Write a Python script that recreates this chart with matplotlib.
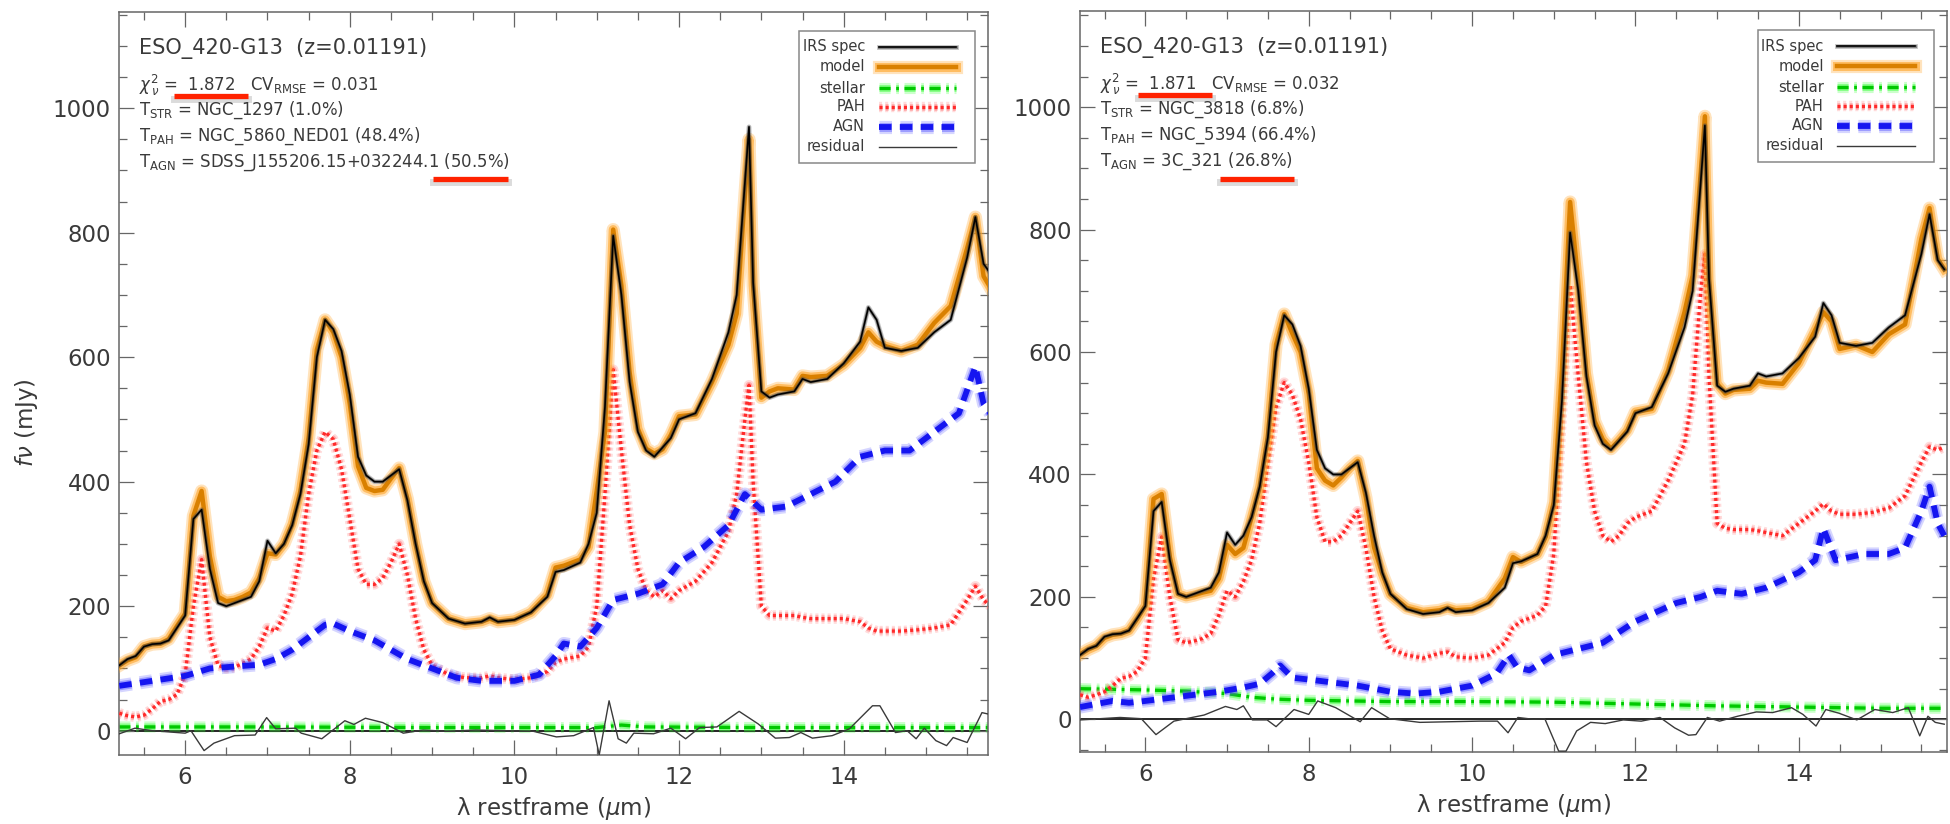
"""
Two-panel IRS spectral decomposition of ESO_420-G13 (stellar + PAH + AGN templates).
"""

import matplotlib

matplotlib.use("Agg")

import matplotlib.patheffects as pe
import matplotlib.pyplot as plt
from matplotlib.lines import Line2D
from matplotlib.patches import Rectangle
from matplotlib.ticker import MultipleLocator

plt.rcParams["font.family"] = ["DejaVu Sans"]
plt.rcParams["lines.scale_dashes"] = False

# ---------------------------------------------------------------- data
# rest-frame wavelength grid of the IRS spectrum (micron)
wl = [5.20, 5.30, 5.40, 5.50, 5.60, 5.70, 5.80, 5.90,
      6.00, 6.10, 6.20, 6.30, 6.40, 6.50, 6.60, 6.70, 6.80, 6.90,
      7.00, 7.10, 7.20, 7.30, 7.40, 7.50, 7.60, 7.70, 7.80, 7.90,
      8.00, 8.10, 8.20, 8.30, 8.40, 8.50, 8.60, 8.70, 8.80, 8.90,
      9.00, 9.20, 9.40, 9.60, 9.70, 9.80,
      10.00, 10.20, 10.40, 10.50, 10.60, 10.80, 10.90,
      11.00, 11.10, 11.20, 11.30, 11.40, 11.50, 11.60, 11.70, 11.80, 11.90,
      12.00, 12.20, 12.40, 12.60, 12.70, 12.80, 12.85, 12.90,
      13.00, 13.10, 13.20, 13.40, 13.50, 13.60, 13.80,
      14.00, 14.20, 14.30, 14.40, 14.50, 14.70, 14.90,
      15.10, 15.30, 15.50, 15.60, 15.70, 15.78]

irs_spec = [105, 115, 120, 135, 139, 140, 145, 165,
            185, 340, 355, 260, 205, 200, 205, 210, 215, 240,
            305, 285, 300, 330, 380, 460, 600, 660, 645, 610,
            540, 440, 410, 400, 400, 410, 420, 370, 300, 240,
            205, 180, 172, 175, 182, 175,
            178, 190, 215, 255, 258, 270, 300,
            350, 520, 795, 700, 560, 480, 450, 440, 455, 470,
            500, 510, 565, 640, 700, 880, 970, 720,
            545, 535, 540, 545, 565, 560, 565,
            590, 625, 680, 660, 615, 610, 615,
            640, 660, 760, 825, 750, 735]

model_left = [105, 113, 118, 135, 139, 140, 147, 168,
              188, 345, 385, 280, 215, 208, 210, 215, 222, 245,
              285, 283, 300, 332, 385, 470, 612, 660, 640, 600,
              525, 425, 390, 385, 387, 405, 422, 372, 300, 240,
              205, 180, 172, 175, 180, 175,
              178, 190, 218, 262, 265, 275, 295,
              385, 480, 805, 715, 575, 485, 453, 445, 452, 475,
              505, 508, 560, 620, 670, 860, 950, 715,
              535, 545, 550, 548, 570, 568, 570,
              588, 615, 640, 625, 618, 610, 620,
              655, 682, 775, 825, 730, 712]

model_right = [106, 114, 120, 133, 138, 140, 145, 164,
               186, 360, 368, 265, 205, 200, 203, 207, 210, 230,
               285, 270, 280, 330, 380, 462, 612, 662, 630, 600,
               532, 410, 390, 382, 395, 410, 422, 362, 281, 238,
               204, 182, 175, 178, 182, 178,
               180, 192, 230, 265, 257, 270, 298,
               355, 570, 845, 715, 565, 487, 457, 442, 456, 472,
               502, 507, 570, 665, 725, 895, 985, 718,
               548, 532, 538, 540, 553, 550, 548,
               582, 636, 665, 650, 605, 611, 600,
               629, 645, 785, 835, 752, 735]

pah_left = [28, 24, 22, 25, 35, 47, 50, 58,
            90, 200, 275, 150, 105, 100, 102, 108, 115, 135,
            165, 160, 185, 220, 280, 380, 450, 480, 468, 420,
            340, 260, 235, 235, 245, 270, 300, 250, 180, 130,
            105, 90, 85, 85, 88, 85,
            82, 85, 95, 110, 115, 120, 135,
            200, 380, 580, 450, 330, 260, 225, 215, 225, 212,
            225, 240, 270, 320, 380, 500, 555, 400,
            200, 185, 185, 185, 182, 180, 180,
            180, 175, 165, 160, 160, 160, 162,
            165, 170, 210, 232, 210, 200]

pah_right = [40, 36, 40, 45, 55, 67, 70, 78,
             100, 230, 298, 200, 130, 125, 128, 132, 140, 170,
             210, 200, 225, 260, 320, 420, 510, 550, 530, 490,
             420, 330, 290, 290, 300, 320, 340, 280, 200, 145,
             115, 105, 100, 108, 110, 102,
             100, 105, 125, 150, 160, 170, 185,
             270, 500, 710, 560, 420, 340, 300, 290, 300, 320,
             330, 340, 390, 450, 530, 700, 760, 560,
             320, 312, 310, 310, 308, 305, 300,
             320, 340, 352, 340, 335, 335, 338,
             345, 365, 420, 445, 440, 445]

agn_wl_left = [5.2, 5.6, 6.0, 6.3, 6.6, 6.9, 7.1, 7.3, 7.5, 7.7, 7.8, 8.0, 8.3,
               8.5, 8.7, 9.0, 9.3, 9.6, 10.0, 10.3, 10.5, 10.6, 10.8, 11.0,
               11.2, 11.5, 11.8, 12.0, 12.3, 12.6, 12.8, 13.0, 13.3, 13.6,
               13.9, 14.2, 14.5, 14.8, 15.0, 15.3, 15.4, 15.6, 15.7, 15.78]
agn_left = [72, 80, 88, 100, 103, 106, 115, 130, 150, 170, 172, 160, 145,
            130, 115, 100, 85, 80, 80, 90, 120, 140, 135, 165,
            210, 220, 235, 270, 295, 330, 380, 355, 360, 380,
            400, 440, 450, 450, 470, 500, 510, 585, 525, 510]

agn_wl_right = [5.2, 5.4, 5.6, 5.8, 6.0, 6.3, 6.6, 6.9, 7.2, 7.4, 7.55, 7.65,
                7.8, 8.0, 8.3, 8.6, 9.0, 9.3, 9.6, 10.0, 10.3, 10.45, 10.55,
                10.7, 11.0, 11.3, 11.6, 12.0, 12.5, 12.8, 13.0, 13.3, 13.6,
                14.0, 14.2, 14.3, 14.45, 14.8, 15.1, 15.3, 15.5, 15.6, 15.7,
                15.78]
agn_right = [20, 25, 30, 27, 30, 35, 40, 45, 52, 58, 75, 88,
             68, 65, 60, 55, 45, 42, 45, 55, 75, 105, 85,
             80, 105, 115, 125, 160, 190, 200, 210, 205, 215,
             240, 260, 312, 260, 270, 270, 280, 340, 380, 320,
             300]

stellar_wl_left = [5.2, 7.0, 9.0, 11.0, 11.3, 11.6, 13.0, 15.0, 15.78]
stellar_left = [6, 6, 5, 5, 9, 6, 5, 5, 5]

stellar_wl_right = [5.2, 6.0, 6.5, 7.0, 7.3, 7.6, 8.0, 9.0, 10.0, 11.0, 12.0,
                    13.0, 14.0, 15.0, 15.78]
stellar_right = [50, 48, 46, 42, 36, 33, 31, 29, 29, 28, 25, 22, 20, 18, 18]

resid_wl_left = [5.20, 5.39, 5.60, 6.00, 6.07, 6.23, 6.35, 6.60, 6.85, 6.99,
                 7.10, 7.34, 7.41, 7.66, 7.94, 8.05, 8.19, 8.40, 8.65, 8.89,
                 9.18, 9.53, 9.88, 10.23, 10.51, 10.72, 10.96, 11.03, 11.15,
                 11.26, 11.36, 11.45, 11.69, 11.90, 12.08, 12.25, 12.46, 12.73,
                 12.96, 13.17, 13.34, 13.48, 13.62, 13.86, 14.07, 14.35, 14.44,
                 14.63, 14.77, 14.88, 14.98, 15.12, 15.25, 15.33, 15.50, 15.68,
                 15.78]
resid_left = [-5, 4, 0, -4, 0, -32, -20, -8, -7, 21,
              3, 4, -4, -13, 16, 10, 20, 13, -4, 1,
              -1, 1, 0, -1, -10, -8, 5, -39, 48,
              -13, -20, -4, -5, 4, -13, 5, 6, 31,
              11, -12, -11, -3, -12, -8, 3, 40, 40,
              -3, 0, -13, 4, -16, -24, -11, -19, 29,
              26]

resid_wl_right = [5.20, 5.69, 5.95, 6.13, 6.35, 6.72, 6.98, 7.12, 7.20, 7.31,
                  7.49, 7.60, 7.82, 8.00, 8.11, 8.33, 8.63, 8.77, 8.99, 9.36,
                  9.72, 10.09, 10.31, 10.44, 10.56, 10.75, 10.89, 11.06, 11.15,
                  11.28, 11.45, 11.63, 11.85, 12.07, 12.30, 12.48, 12.65, 12.74,
                  12.88, 13.03, 13.25, 13.48, 13.68, 13.91, 14.05, 14.21, 14.33,
                  14.49, 14.71, 14.93, 15.15, 15.34, 15.48, 15.58, 15.67, 15.78]
resid_right = [-1, 3, 1, -25, -3, 7, 21, 16, 22, -1,
               -1, -12, 16, 8, 30, 19, -4, 19, 1, -5,
               -4, -3, -3, -22, 3, 0, 1, -52, -52,
               -19, -5, -7, -1, -3, 3, -14, -26, -25,
               3, -3, 5, 12, 11, 19, 8, -11, 16,
               10, -1, 16, 11, 19, -27, 5, -5, -8]

title_text = "ESO_420-G13  (z=0.01191)"
fit_lines_left = [
    r"$\chi^2_{\,\nu}$ =  1.872   CV$_{\mathrm{RMSE}}$ = 0.031",
    r"T$_{\mathrm{STR}}$ = NGC_1297 (1.0%)",
    r"T$_{\mathrm{PAH}}$ = NGC_5860_NED01 (48.4%)",
    r"T$_{\mathrm{AGN}}$ = SDSS_J155206.15+032244.1 (50.5%)",
]
fit_lines_right = [
    r"$\chi^2_{\,\nu}$ =  1.871   CV$_{\mathrm{RMSE}}$ = 0.032",
    r"T$_{\mathrm{STR}}$ = NGC_3818 (6.8%)",
    r"T$_{\mathrm{PAH}}$ = NGC_5394 (66.4%)",
    r"T$_{\mathrm{AGN}}$ = 3C_321 (26.8%)",
]
legend_labels = ["IRS spec", "model", "stellar", "PAH", "AGN", "residual"]

TEXT_COLOR = "#3a3a3a"
AXIS_COLOR = "#666666"
W, H = 1950, 824


def glow(color, wide, narrow, alpha_wide=0.25, alpha_narrow=0.45):
    return [
        pe.Stroke(linewidth=wide, foreground=color, alpha=alpha_wide),
        pe.Stroke(linewidth=narrow, foreground=color, alpha=alpha_narrow),
        pe.Normal(),
    ]


STYLES = {
    "IRS spec": dict(color="black", lw=1.2, path_effects=glow("#444444", 3.5, 2.2, 0.3, 0.5)),
    "model": dict(color="#d98000", lw=3.2, path_effects=glow("#ffa526", 9.5, 6.5, 0.3, 0.6)),
    "stellar": dict(color="#00c800", lw=2.4, dashes=(8, 4, 2, 4),
                    path_effects=glow("#33ff33", 8.0, 5.0, 0.25, 0.45)),
    "PAH": dict(color="#ff2a2a", lw=2.4, dashes=(2.2, 2.2),
                path_effects=glow("#ff7070", 7.5, 4.8, 0.25, 0.45)),
    "AGN": dict(color="#1515f0", lw=4.2, dashes=(9, 6),
                path_effects=glow("#5a5aff", 9.5, 6.5, 0.25, 0.45)),
    "residual": dict(color="#3a3a3a", lw=1.0),
}


def style_axes(ax, xlim, ylim):
    ax.set_xlim(*xlim)
    ax.set_ylim(*ylim)
    ax.xaxis.set_major_locator(MultipleLocator(2))
    ax.xaxis.set_minor_locator(MultipleLocator(0.5))
    ax.yaxis.set_major_locator(MultipleLocator(200))
    ax.yaxis.set_minor_locator(MultipleLocator(50))
    ax.tick_params(which="both", direction="in", top=True, right=True,
                   colors=AXIS_COLOR, labelcolor=TEXT_COLOR, labelsize=16.5)
    ax.tick_params(which="major", length=11, width=0.9)
    ax.tick_params(which="minor", length=5.5, width=0.9)
    ax.tick_params(axis="x", pad=8)
    ax.tick_params(axis="y", pad=6)
    for spine in ax.spines.values():
        spine.set_color(AXIS_COLOR)
        spine.set_linewidth(1.1)
    ax.text(0.5, -0.072, r"λ restframe ($\mu$m)", transform=ax.transAxes,
            ha="center", va="center", fontsize=16.5, color=TEXT_COLOR)


def draw_legend(ax):
    ax.add_patch(Rectangle((0.782, 0.796), 0.203, 0.178, transform=ax.transAxes,
                           facecolor="white", edgecolor="#888888", lw=1.1, zorder=6))
    rows = [0.9525, 0.9256, 0.8973, 0.8718, 0.8449, 0.8180]
    for label, y in zip(legend_labels, rows):
        ax.text(0.858, y, label, transform=ax.transAxes, ha="right", va="center",
                fontsize=10.5, color=TEXT_COLOR, zorder=7)
        ax.add_line(Line2D([0.874, 0.963], [y, y], transform=ax.transAxes,
                           zorder=7, **STYLES[label]))


def draw_panel(ax, model, pah, agn_wl, agn, st_wl, st, res_wl, res, fit_lines, marks):
    ax.axhline(0, color="black", lw=1.2, zorder=1)
    ax.plot(st_wl, st, zorder=2, **STYLES["stellar"])
    ax.plot(wl, pah, zorder=3, **STYLES["PAH"])
    ax.plot(agn_wl, agn, zorder=3, **STYLES["AGN"])
    ax.plot(wl, model, zorder=4, **STYLES["model"])
    ax.plot(wl, irs_spec, zorder=5, **STYLES["IRS spec"])
    ax.plot(res_wl, res, zorder=5, **STYLES["residual"])

    ax.text(0.023, 0.951, title_text, transform=ax.transAxes, ha="left",
            va="center", fontsize=15.0, color=TEXT_COLOR)
    for y, line in zip([0.901, 0.868, 0.833, 0.798], fit_lines):
        ax.text(0.023, y, line, transform=ax.transAxes, ha="left", va="center",
                fontsize=11.9, color=TEXT_COLOR)

    # red highlight bars under the fit quality and AGN fraction
    for x0, x1, y in marks:
        ax.add_line(Line2D([x0, x1], [y - 0.004, y - 0.004], transform=ax.transAxes,
                           color="#999999", lw=5, alpha=0.35, clip_on=False))
        ax.add_line(Line2D([x0, x1], [y, y], transform=ax.transAxes,
                           color="#ff2200", lw=3.8, solid_capstyle="butt", clip_on=False))
    draw_legend(ax)


def main():
    fig = plt.figure(figsize=(W / 100, H / 100), dpi=100, facecolor="white")
    ax_l = fig.add_axes([119.3 / W, 1 - 754.7 / H, 869.0 / W, 743.0 / H])
    ax_r = fig.add_axes([1080.0 / W, 1 - 752.3 / H, 866.7 / W, 741.3 / H])

    draw_panel(ax_l, model_left, pah_left, agn_wl_left, agn_left,
               stellar_wl_left, stellar_left, resid_wl_left, resid_left,
               fit_lines_left,
               [(0.063, 0.148, 0.8866), (0.361, 0.447, 0.7748)])
    draw_panel(ax_r, model_right, pah_right, agn_wl_right, agn_right,
               stellar_wl_right, stellar_right, resid_wl_right, resid_right,
               fit_lines_right,
               [(0.0666, 0.152, 0.8867), (0.1615, 0.2473, 0.773)])

    style_axes(ax_l, (5.2, 15.757), (-38.6, 1155))
    style_axes(ax_r, (5.2, 15.81), (-53.9, 1157))

    fig.text(27 / W, 1 - 423 / H, r"$f\nu$ (mJy)", rotation=90, ha="center",
             va="center", fontsize=16.5, color=TEXT_COLOR)

    fig.savefig("out.png", dpi=100, facecolor="white")
    plt.close(fig)


if __name__ == "__main__":
    main()
